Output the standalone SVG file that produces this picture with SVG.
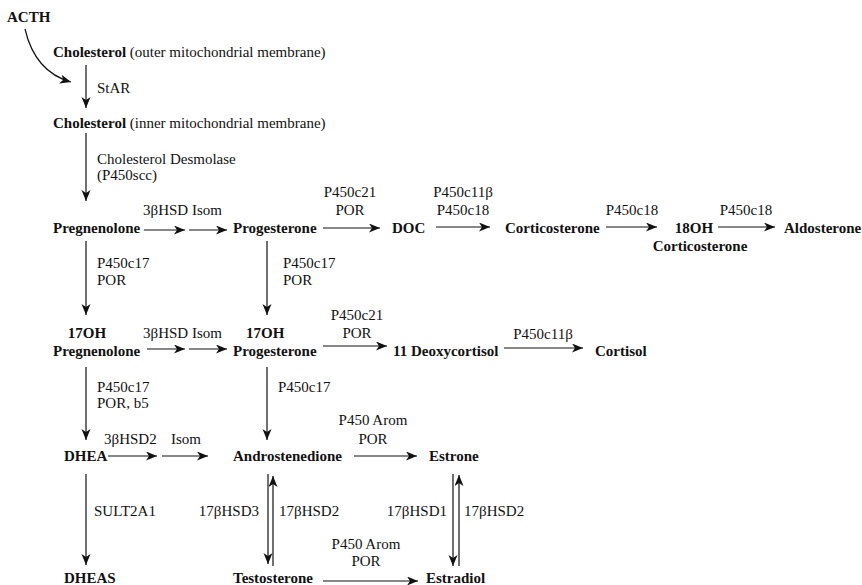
<svg xmlns="http://www.w3.org/2000/svg" width="862" height="585" viewBox="0 0 862 585">
<defs>
<marker id="ah" markerWidth="12" markerHeight="10" refX="11" refY="4.5" orient="auto" markerUnits="userSpaceOnUse">
<path d="M0,0 L11,4.5 L0,9 L3,4.5 z" fill="#111"/>
</marker>
<style>
text{font-family:"Liberation Serif","Times New Roman",serif;font-size:15px;fill:#111}
.b{font-weight:bold}
.m{text-anchor:middle}
.e{text-anchor:end}
.c line,.c path{stroke:#111;stroke-width:1.2;fill:none;marker-end:url(#ah)}
</style>
</defs>
<rect width="862" height="585" fill="#fff"/>
<g id="connectors" class="c">
<path d="M25,29 Q35,72 71,82"/>
<line x1="86" y1="65" x2="86" y2="108"/>
<line x1="86" y1="133" x2="86" y2="201"/>
<line x1="144" y1="230" x2="185" y2="230"/>
<line x1="189" y1="230" x2="227" y2="230"/>
<line x1="323" y1="228" x2="380" y2="228"/>
<line x1="436" y1="227" x2="490" y2="227"/>
<line x1="606" y1="227" x2="657" y2="227"/>
<line x1="718" y1="227" x2="775" y2="227"/>
<line x1="86" y1="241" x2="86" y2="315"/>
<line x1="267" y1="241" x2="267" y2="315"/>
<line x1="147" y1="349" x2="185" y2="349"/>
<line x1="189" y1="349" x2="227" y2="349"/>
<line x1="323" y1="346" x2="387" y2="346"/>
<line x1="504" y1="348" x2="583" y2="348"/>
<line x1="86" y1="367" x2="86" y2="440"/>
<line x1="267" y1="367" x2="267" y2="440"/>
<line x1="108" y1="456" x2="157" y2="456"/>
<line x1="162" y1="456" x2="208" y2="456"/>
<line x1="354" y1="456" x2="417" y2="456"/>
<line x1="86" y1="474" x2="86" y2="565"/>
<line x1="268" y1="474" x2="268" y2="564"/>
<line x1="273" y1="566" x2="273" y2="476"/>
<line x1="453" y1="474" x2="453" y2="566"/>
<line x1="459" y1="566" x2="459" y2="475"/>
<line x1="323" y1="581" x2="418" y2="581"/>
</g>
<g id="labels">
<text x="97" y="93">StAR</text>
<text x="97" y="164">Cholesterol Desmolase</text>
<text x="97" y="180">(P450scc)</text>
<text x="143" y="215">3βHSD Isom</text>
<text class="m" x="350" y="197">P450c21</text>
<text class="m" x="350" y="215">POR</text>
<text class="m" x="463" y="197">P450c11β</text>
<text class="m" x="463" y="215">P450c18</text>
<text class="m" x="632" y="215">P450c18</text>
<text class="m" x="746" y="215">P450c18</text>
<text x="97" y="268">P450c17</text>
<text x="97" y="285">POR</text>
<text x="283" y="268">P450c17</text>
<text x="283" y="285">POR</text>
<text x="143" y="338">3βHSD Isom</text>
<text class="m" x="357" y="320">P450c21</text>
<text class="m" x="357" y="338">POR</text>
<text class="m" x="543" y="339">P450c11β</text>
<text x="97" y="392">P450c17</text>
<text x="97" y="408">POR, b5</text>
<text x="278" y="392">P450c17</text>
<text x="104" y="444">3βHSD2</text>
<text x="171" y="444">Isom</text>
<text class="m" x="373" y="425">P450 Arom</text>
<text class="m" x="373" y="444">POR</text>
<text x="94" y="516">SULT2A1</text>
<text class="e" x="259" y="516">17βHSD3</text>
<text x="279" y="516">17βHSD2</text>
<text class="e" x="447" y="516">17βHSD1</text>
<text x="464" y="516">17βHSD2</text>
<text class="m" x="366" y="549">P450 Arom</text>
<text class="m" x="366" y="566">POR</text>
</g>
<g id="acth"><text class="b" x="7" y="22">ACTH</text></g>
<g id="chol-outer"><text x="53" y="57"><tspan class="b">Cholesterol</tspan> (outer mitochondrial membrane)</text></g>
<g id="chol-inner"><text x="53" y="128"><tspan class="b">Cholesterol</tspan> (inner mitochondrial membrane)</text></g>
<g id="pregnenolone"><text class="b" x="53" y="233">Pregnenolone</text></g>
<g id="progesterone"><text class="b" x="233" y="233">Progesterone</text></g>
<g id="doc"><text class="b" x="392" y="233">DOC</text></g>
<g id="corticosterone"><text class="b" x="505" y="233">Corticosterone</text></g>
<g id="oh18-corticosterone"><text class="b m" x="694" y="233">18OH</text><text class="b m" x="700" y="251">Corticosterone</text></g>
<g id="aldosterone"><text class="b" x="784" y="233">Aldosterone</text></g>
<g id="oh17-pregnenolone"><text class="b m" x="87" y="338">17OH</text><text class="b" x="53" y="356">Pregnenolone</text></g>
<g id="oh17-progesterone"><text class="b" x="246" y="338">17OH</text><text class="b" x="233" y="356">Progesterone</text></g>
<g id="deoxycortisol"><text class="b" x="393" y="356">11 Deoxycortisol</text></g>
<g id="cortisol"><text class="b" x="595" y="356">Cortisol</text></g>
<g id="dhea"><text class="b" x="64" y="461">DHEA</text></g>
<g id="androstenedione"><text class="b" x="233" y="461">Androstenedione</text></g>
<g id="estrone"><text class="b" x="429" y="461">Estrone</text></g>
<g id="dheas"><text class="b" x="64" y="583">DHEAS</text></g>
<g id="testosterone"><text class="b" x="233" y="583">Testosterone</text></g>
<g id="estradiol"><text class="b" x="426" y="583">Estradiol</text></g>
</svg>
